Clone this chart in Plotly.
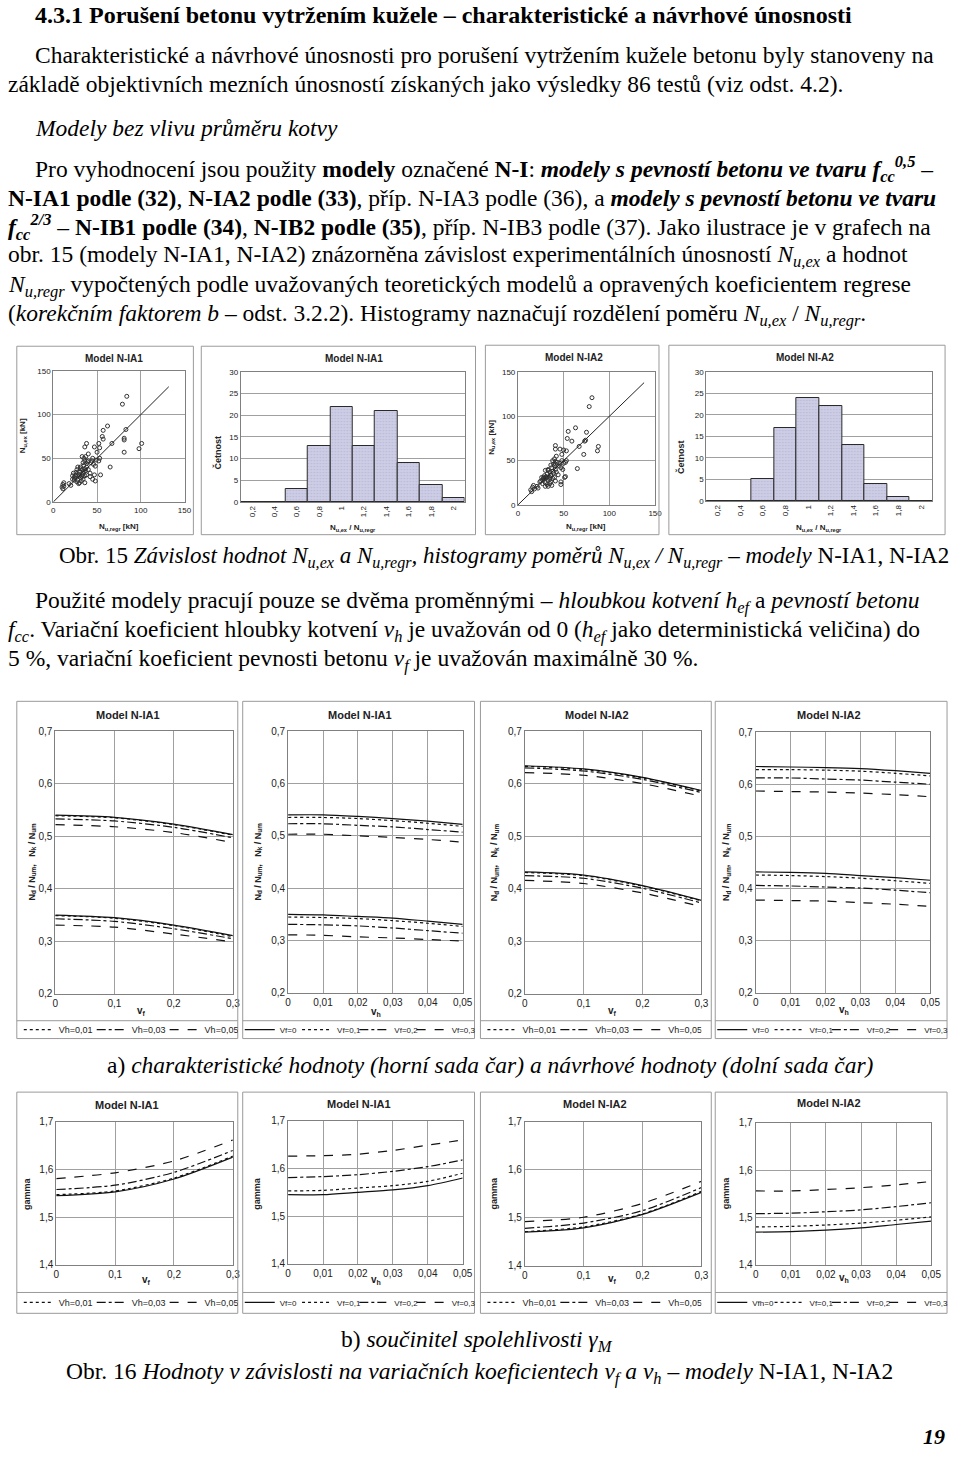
import plotly.graph_objects as go

W, H = 960, 1480

# ---------------- data ----------------
ia1_regr = [84, 79, 62, 57, 83, 56, 57, 81, 81, 81, 98, 101, 67, 65, 52, 53, 50, 47, 52, 53,
            49, 54, 47, 45, 48, 42, 38, 36, 40, 37, 35, 33, 36, 38, 35, 38, 40, 42, 38, 36,
            33, 31, 30, 29, 31, 28, 27, 30, 32, 34, 36, 25, 24, 22, 23, 27, 28, 26, 33, 30,
            35, 37, 39, 43, 44, 46, 48, 20, 22, 18, 11, 10, 11, 12, 12, 29, 31, 26, 24, 34,
            36, 40, 34, 33, 28, 45]
ia1_ex = [121, 112, 87, 82, 83, 75, 72, 73, 71, 57, 61, 67, 67, 40, 67, 62, 57, 63, 47, 50,
          48, 31, 31, 26, 24, 29, 67, 63, 55, 52, 50, 52, 47, 44, 42, 40, 37, 33, 31, 30,
          37, 40, 35, 32, 28, 25, 23, 22, 24, 26, 22, 30, 28, 30, 33, 37, 40, 34, 31, 30,
          35, 36, 46, 45, 47, 43, 41, 19, 26, 21, 15, 17, 20, 22, 18, 21, 38, 31, 25, 33,
          38, 47, 45, 29, 30, 50]
ia2_regr = [81, 78, 63, 55, 75, 54, 59, 74, 73, 72, 87, 88, 67, 65, 53, 50, 48, 46, 52, 53,
            50, 52, 51, 47, 47, 41, 41, 41, 42, 40, 38, 41, 39, 40, 37, 41, 42, 44, 40, 38,
            35, 33, 32, 31, 33, 30, 32, 33, 35, 36, 37, 28, 27, 25, 26, 29, 30, 28, 35, 31,
            36, 39, 41, 45, 46, 47, 49, 22, 24, 21, 15, 14, 16, 17, 18, 30, 33, 29, 27, 36,
            38, 43, 36, 35, 31, 48]
ia2_ex = [121, 111, 87, 83, 82, 75, 72, 73, 72, 57, 61, 66, 66, 41, 61, 62, 57, 63, 48, 50,
          47, 32, 31, 26, 23, 27, 67, 63, 55, 52, 50, 49, 46, 44, 42, 40, 37, 34, 31, 30,
          37, 40, 35, 32, 28, 25, 23, 21, 24, 26, 22, 30, 28, 27, 31, 33, 39, 31, 31, 30,
          34, 36, 46, 44, 47, 42, 40, 19, 26, 21, 15, 17, 20, 22, 18, 21, 39, 30, 24, 33,
          38, 48, 45, 29, 31, 50]
diag_ia1 = [0, 132]
diag_ia2 = [0, 138]

hist_bins = ["0,2", "0,4", "0,6", "0,8", "1", "1,2", "1,4", "1,6", "1,8", "2"]
hist_ia1 = [0, 0, 3, 13, 22, 13, 21, 9, 4, 1]
hist_ia2 = [0, 0, 5, 17, 24, 22, 13, 4, 1, 0]

vf = [0, 0.1, 0.2, 0.3]
vh = [0, 0.01, 0.02, 0.03, 0.04, 0.05]
vh_names = ["Vh=0", "Vh=0,01", "Vh=0,03", "Vh=0,05"]
vf_names = ["Vf=0", "Vf=0,1", "Vf=0,2", "Vf=0,3"]
vf_names_d = ["Vfh=0", "Vf=0,1", "Vf=0,2", "Vf=0,3"]

# N_k/N_um (upper set) and N_d/N_um (lower set)
ia1_vf_k = [[0.540, 0.536, 0.523, 0.503], [0.539, 0.535, 0.522, 0.502],
            [0.533, 0.529, 0.517, 0.497], [0.522, 0.518, 0.507, 0.488]]
ia1_vf_d = [[0.350, 0.345, 0.331, 0.311], [0.349, 0.344, 0.330, 0.309],
            [0.343, 0.338, 0.324, 0.305], [0.331, 0.327, 0.314, 0.299]]
ia1_vh_k = [[0.540, 0.540, 0.537, 0.533, 0.528, 0.522], [0.535, 0.535, 0.533, 0.529, 0.524, 0.518],
            [0.523, 0.523, 0.520, 0.517, 0.512, 0.507], [0.503, 0.503, 0.500, 0.497, 0.493, 0.488]]
ia1_vh_d = [[0.350, 0.349, 0.346, 0.343, 0.337, 0.331], [0.345, 0.344, 0.342, 0.338, 0.333, 0.327],
            [0.331, 0.330, 0.328, 0.324, 0.319, 0.314], [0.311, 0.310, 0.307, 0.305, 0.302, 0.299]]
ia2_vf_k = [[0.634, 0.628, 0.612, 0.587], [0.633, 0.627, 0.611, 0.586],
            [0.630, 0.624, 0.608, 0.583], [0.621, 0.616, 0.600, 0.576]]
ia2_vf_d = [[0.432, 0.426, 0.406, 0.378], [0.431, 0.425, 0.405, 0.377],
            [0.425, 0.420, 0.401, 0.373], [0.416, 0.410, 0.392, 0.366]]
ia2_vh_k = [[0.634, 0.633, 0.632, 0.630, 0.626, 0.621], [0.628, 0.628, 0.627, 0.625, 0.621, 0.616],
            [0.612, 0.612, 0.610, 0.608, 0.604, 0.600], [0.587, 0.586, 0.585, 0.583, 0.580, 0.576]]
ia2_vh_d = [[0.432, 0.431, 0.429, 0.425, 0.421, 0.416], [0.426, 0.425, 0.423, 0.420, 0.415, 0.410],
            [0.406, 0.405, 0.403, 0.401, 0.397, 0.392], [0.378, 0.377, 0.376, 0.373, 0.370, 0.366]]

gamma_ia1_vf = [[1.545, 1.553, 1.580, 1.626], [1.547, 1.555, 1.582, 1.628],
                [1.558, 1.567, 1.594, 1.640], [1.581, 1.593, 1.618, 1.662]]
gamma_ia1_vh = [[1.545, 1.545, 1.550, 1.555, 1.564, 1.580], [1.553, 1.554, 1.559, 1.564, 1.573, 1.590],
                [1.581, 1.583, 1.587, 1.594, 1.604, 1.618], [1.626, 1.627, 1.630, 1.638, 1.649, 1.660]]
gamma_ia2_vf = [[1.470, 1.479, 1.507, 1.553], [1.471, 1.481, 1.508, 1.555],
                [1.478, 1.489, 1.515, 1.563], [1.492, 1.501, 1.530, 1.576]]
gamma_ia2_vh = [[1.469, 1.470, 1.473, 1.478, 1.485, 1.492], [1.480, 1.481, 1.484, 1.488, 1.494, 1.501],
                [1.508, 1.509, 1.512, 1.516, 1.523, 1.531], [1.556, 1.556, 1.559, 1.563, 1.569, 1.576]]

# ---------------- helpers ----------------
def X(p):
    return p / W


def Y(p):
    return 1 - p / H


SANS = "Liberation Sans, Arial, sans-serif"
SERIF = "Liberation Serif, Times New Roman, serif"
GRID = "#a0a0a0"
DASHES = ["solid", "dot", "dashdot", "dash"]

fig = go.Figure()
layout = dict(width=W, height=H, margin=dict(l=0, r=0, t=0, b=0),
              paper_bgcolor="white", plot_bgcolor="white", separators=", ",
              bargap=0, showlegend=True, font=dict(family=SANS, color="#222"))
shapes = []
annotations = []


def axkeys(n):
    return ("xaxis" if n == 1 else f"xaxis{n}", "yaxis" if n == 1 else f"yaxis{n}",
            "x" if n == 1 else f"x{n}", "y" if n == 1 else f"y{n}")


def make_axes(n, xpx, ypx, xr, yr, xdtick, ydtick, tfs=9, xcat=False, xgrid=True):
    xk, yk, xa, ya = axkeys(n)
    xax = dict(domain=[X(xpx[0]), X(xpx[1])], anchor=ya, showline=True, mirror=True,
               linecolor="#808080", linewidth=1, showgrid=xgrid, gridcolor=GRID,
               zeroline=False, ticks="", tickfont=dict(size=tfs, family=SANS, color="#222"),
               fixedrange=True)
    if xcat:
        xax.update(type="category", tickangle=-90, range=[-0.5, 9.5])
    else:
        xax.update(range=xr, dtick=xdtick, tick0=0)
    yax = dict(domain=[Y(ypx[1]), Y(ypx[0])], anchor=xa, showline=True, mirror=True,
               linecolor="#808080", linewidth=1, showgrid=True, gridcolor=GRID,
               zeroline=False, ticks="", range=yr, dtick=ydtick, tick0=0,
               tickfont=dict(size=tfs, family=SANS, color="#222"), fixedrange=True)
    layout[xk] = xax
    layout[yk] = yax
    return xa, ya


def frame(x0, y0, x1, y1):
    shapes.append(dict(type="rect", xref="paper", yref="paper", x0=X(x0), x1=X(x1),
                       y0=Y(y1), y1=Y(y0), line=dict(color="#9a9a9a", width=1)))


def hline(x0, x1, y):
    shapes.append(dict(type="line", xref="paper", yref="paper", x0=X(x0), x1=X(x1),
                       y0=Y(y), y1=Y(y), line=dict(color="#9a9a9a", width=1)))


def text(s, x, y, size=10, bold=False, family=SANS, anchor="center", angle=0, color="#222"):
    if bold:
        s = "<b>" + s + "</b>"
    annotations.append(dict(text=s, xref="paper", yref="paper", x=X(x), y=Y(y),
                            xanchor=anchor, yanchor="middle", showarrow=False,
                            textangle=angle, font=dict(size=size, family=family, color=color)))


# ---------------- row 1: scatter + histograms ----------------
row1 = [
    dict(kind="sc", frame=(14, 343, 193, 533), x=(51, 184), y=(368, 500), xs=ia1_regr, ys=ia1_ex,
         diag=diag_ia1, title="Model N-IA1", tpos=(113, 355), ylab=(21, 433)),
    dict(kind="hi", frame=(201, 343, 479, 533), x=(241, 468), y=(369, 500), vals=hist_ia1,
         title="Model N-IA1", tpos=(356, 355), ylab=(217, 450)),
    dict(kind="sc", frame=(489, 342, 665, 533), x=(522, 661), y=(369, 503), xs=ia2_regr, ys=ia2_ex,
         diag=diag_ia2, title="Model N-IA2", tpos=(579, 354), ylab=(496, 435)),
    dict(kind="hi", frame=(675, 342, 955, 533), x=(713, 942), y=(369, 499), vals=hist_ia2,
         title="Model NI-A2", tpos=(813, 354), ylab=(687, 455)),
]
n = 0
for p in row1:
    n += 1
    frame(*p["frame"])
    text(p["title"], *p["tpos"], size=10, bold=True)
    xlab_x = (p["x"][0] + p["x"][1]) / 2
    if p["kind"] == "sc":
        xa, ya = make_axes(n, p["x"], p["y"], [0, 150], [0, 150], 50, 50, tfs=8)
        fig.add_trace(go.Scatter(x=p["xs"], y=p["ys"], mode="markers", xaxis=xa, yaxis=ya,
                                 showlegend=False, cliponaxis=False,
                                 marker=dict(symbol="circle-open", size=4, color="#333",
                                             line=dict(width=1, color="#333"))))
        fig.add_trace(go.Scatter(x=p["diag"], y=p["diag"], mode="lines", xaxis=xa, yaxis=ya,
                                 showlegend=False, line=dict(color="#222", width=1)))
        text("N<sub>u,ex</sub> [kN]", *p["ylab"], size=8, bold=True, angle=-90)
        text("N<sub>u,regr</sub> [kN]", xlab_x, 525, size=8, bold=True)
    else:
        xa, ya = make_axes(n, p["x"], p["y"], None, [0, 30], None, 5, tfs=8, xcat=True, xgrid=False)
        fig.add_trace(go.Bar(x=hist_bins, y=p["vals"], xaxis=xa, yaxis=ya, showlegend=False,
                             marker=dict(color="#cdcde6", line=dict(color="#2a2a2a", width=1),
                                         pattern=dict(shape=".", fgcolor="#a8a8c8", size=3,
                                                      solidity=0.25))))
        text("Četnost", *p["ylab"], size=9, bold=True, angle=-90)
        text("N<sub>u,ex</sub> / N<sub>u,regr</sub>", xlab_x, 526, size=8, bold=True)

# ---------------- rows 2 and 3: line charts ----------------
ylab_r2 = "N<sub>d</sub> / N<sub>um</sub>,   N<sub>k</sub> / N<sub>um</sub>"
panels = [
    # row 2
    dict(frame=(14, 701, 238, 1041), div=1023, leg_y=1032, x=(53, 233), y=(731, 996), xv=vf,
         xr=[0, 0.3], xd=0.1, yr=[0.2, 0.7], series=[ia1_vf_k, ia1_vf_d], names=vh_names,
         title="Model N-IA1", tpos=(127, 715), xlab="v<sub>f</sub>", xl=(140, 1013),
         ylab=ylab_r2, yl=(29, 863), solid_in_legend=False),
    dict(frame=(243, 701, 478, 1041), div=1023, leg_y=1032, x=(289, 466), y=(731, 995), xv=vh,
         xr=[0, 0.05], xd=0.01, yr=[0.2, 0.7], series=[ia1_vh_k, ia1_vh_d], names=vf_names,
         title="Model N-IA1", tpos=(362, 715), xlab="v<sub>h</sub>", xl=(378, 1014),
         ylab=ylab_r2, yl=(258, 863), solid_in_legend=True),
    dict(frame=(484, 701, 718, 1041), div=1023, leg_y=1032, x=(529, 708), y=(731, 996), xv=vf,
         xr=[0, 0.3], xd=0.1, yr=[0.2, 0.7], series=[ia2_vf_k, ia2_vf_d], names=vh_names,
         title="Model N-IA2", tpos=(602, 715), xlab="v<sub>f</sub>", xl=(618, 1013),
         ylab=ylab_r2, yl=(498, 863), solid_in_legend=False),
    dict(frame=(722, 701, 957, 1041), div=1023, leg_y=1032, x=(763, 940), y=(732, 995), xv=vh,
         xr=[0, 0.05], xd=0.01, yr=[0.2, 0.7], series=[ia2_vh_k, ia2_vh_d], names=vf_names,
         title="Model N-IA2", tpos=(837, 715), xlab="v<sub>h</sub>", xl=(853, 1012),
         ylab=ylab_r2, yl=(733, 863), solid_in_legend=True),
    # row 3
    dict(frame=(14, 1095, 238, 1318), div=1297, leg_y=1307, x=(54, 233), y=(1125, 1269), xv=vf,
         xr=[0, 0.3], xd=0.1, yr=[1.4, 1.7], series=[gamma_ia1_vf], names=vh_names,
         title="Model N-IA1", tpos=(126, 1108), xlab="v<sub>f</sub>", xl=(145, 1284),
         ylab="gamma", yl=(25, 1197), solid_in_legend=False),
    dict(frame=(243, 1095, 478, 1318), div=1297, leg_y=1307, x=(289, 466), y=(1124, 1268), xv=vh,
         xr=[0, 0.05], xd=0.01, yr=[1.4, 1.7], series=[gamma_ia1_vh], names=vf_names,
         title="Model N-IA1", tpos=(361, 1107), xlab="v<sub>h</sub>", xl=(378, 1284),
         ylab="gamma", yl=(258, 1197), solid_in_legend=True),
    dict(frame=(484, 1095, 718, 1318), div=1297, leg_y=1307, x=(529, 708), y=(1125, 1270), xv=vf,
         xr=[0, 0.3], xd=0.1, yr=[1.4, 1.7], series=[gamma_ia2_vf], names=vh_names,
         title="Model N-IA2", tpos=(600, 1107), xlab="v<sub>f</sub>", xl=(618, 1283),
         ylab="gamma", yl=(498, 1197), solid_in_legend=False),
    dict(frame=(722, 1095, 957, 1318), div=1297, leg_y=1307, x=(763, 941), y=(1126, 1269), xv=vh,
         xr=[0, 0.05], xd=0.01, yr=[1.4, 1.7], series=[gamma_ia2_vh], names=vf_names_d,
         title="Model N-IA2", tpos=(837, 1106), xlab="v<sub>h</sub>", xl=(853, 1282),
         ylab="gamma", yl=(733, 1197), solid_in_legend=True),
]

for i, p in enumerate(panels):
    n += 1
    legname = "legend" if i == 0 else f"legend{i + 1}"
    fx0, fy0, fx1, fy1 = p["frame"]
    frame(fx0, fy0, fx1, fy1)
    hline(fx0, fx1, p["div"])
    text(p["title"], *p["tpos"], size=11, bold=True)
    text(p["xlab"], *p["xl"], size=10, bold=True)
    text(p["ylab"], *p["yl"], size=9, bold=True, angle=-90)
    xa, ya = make_axes(n, p["x"], p["y"], p["xr"], p["yr"], p["xd"], 0.1, tfs=10)
    four = p["solid_in_legend"]
    for si, group in enumerate(p["series"]):
        for k, vals in enumerate(group):
            show = (si == 0) and (k > 0 or four)
            extra = {}
            if show and four and k == len(group) - 1:
                extra["legendwidth"] = 0.072
            fig.add_trace(go.Scatter(x=p["xv"], y=vals, mode="lines", xaxis=xa, yaxis=ya,
                                     name=p["names"][k], legend=legname, showlegend=show,
                                     line=dict(color="#111", width=1.2, dash=DASHES[k],
                                               shape="spline", smoothing=0.8), **extra))
    layout[legname] = dict(orientation="h", x=X(fx0 - 3 if four else fx0 + 2), xanchor="left",
                           y=Y(p["leg_y"]), yanchor="middle", bgcolor="rgba(0,0,0,0)",
                           borderwidth=0,
                           font=dict(size=(8 if four else 9), family=SANS, color="#222"),
                           itemwidth=30, entrywidthmode="fraction",
                           entrywidth=(0.0605 if four else 0.077),
                           tracegroupgap=0, itemclick=False, itemdoubleclick=False)

# ---------------- page text ----------------
FS = 23.5
body = [
    ("<b>4.3.1 Porušení betonu vytržením kužele – charakteristické a návrhové únosnosti</b>", 30, 9, 24),
    ("Charakteristické a návrhové únosnosti pro porušení vytržením kužele betonu byly stanoveny na", 30, 49, FS),
    ("základě objektivních mezních únosností získaných jako výsledky 86 testů (viz odst. 4.2).", 3, 79, FS),
    ("<i>Modely bez vlivu průměru kotvy</i>", 30, 123, FS),
    ("Pro vyhodnocení jsou použity <b>modely</b> označené <b>N-I</b>: <b><i>modely s pevností betonu ve tvaru "
     "f<sub>cc</sub><sup>0,5</sup></i></b> –", 30, 164, FS),
    ("<b>N-IA1 podle (32)</b>, <b>N-IA2 podle (33)</b>, příp. N-IA3 podle (36), a <b><i>modely s pevností "
     "betonu ve tvaru</i></b>", 3, 194, FS),
    ("<b><i>f<sub>cc</sub><sup>2/3</sup></i></b> – <b>N-IB1 podle (34)</b>, <b>N-IB2 podle (35)</b>, "
     "příp. N-IB3 podle (37). Jako ilustrace je v grafech na", 3, 223, FS),
    ("obr. 15 (modely N-IA1, N-IA2) znázorněna závislost experimentálních únosností "
     "<i>N<sub>u,ex</sub></i> a hodnot", 3, 252, FS),
    ("<i>N<sub>u,regr</sub></i> vypočtených podle uvažovaných teoretických modelů a opravených "
     "koeficientem regrese", 3, 282, FS),
    ("(<i>korekčním faktorem b</i> – odst. 3.2.2). Histogramy naznačují rozdělení poměru "
     "<i>N<sub>u,ex</sub></i> / <i>N<sub>u,regr</sub></i>.", 3, 312, FS),
    ("Použité modely pracují pouze se dvěma proměnnými – <i>hloubkou kotvení h<sub>ef</sub></i> a "
     "<i>pevností betonu</i>", 30, 601, FS),
    ("<i>f<sub>cc</sub></i>. Variační koeficient hloubky kotvení <i>v<sub>h</sub></i> je uvažován od 0 "
     "(<i>h<sub>ef</sub></i> jako deterministická veličina) do", 3, 630, FS),
    ("5 %, variační koeficient pevnosti betonu <i>v<sub>f</sub></i> je uvažován maximálně 30 %.", 3, 659, FS),
]
for s, x, y, fs in body:
    text(s, x, y, size=fs, family=SERIF, anchor="left", color="#000")

centered = [
    ("Obr. 15 <i>Závislost hodnot N<sub>u,ex</sub> a N<sub>u,regr</sub>, histogramy poměrů "
     "N<sub>u,ex</sub> / N<sub>u,regr</sub> – modely</i> N-IA1, N-IA2", 508, 556, 23),
    ("a) <i>charakteristické hodnoty (horní sada čar) a návrhové hodnoty (dolní sada čar)</i>", 494, 1068, FS),
    ("b) <i>součinitel spolehlivosti γ<sub>M</sub></i>", 481, 1346, FS),
    ("Obr. 16 <i>Hodnoty v závislosti na variačních koeficientech v<sub>f</sub> a v<sub>h</sub> – "
     "modely</i> N-IA1, N-IA2", 483, 1378, FS),
]
for s, x, y, fs in centered:
    text(s, x, y, size=fs, family=SERIF, anchor="center", color="#000")

text("<b><i>19</i></b>", 944, 1442, size=22, family=SERIF, color="#000")

layout["shapes"] = shapes
layout["annotations"] = annotations
fig.update_layout(**layout)
fig.write_html("out.html", config={"displayModeBar": False},
               post_script="document.body.style.margin='0px';")
